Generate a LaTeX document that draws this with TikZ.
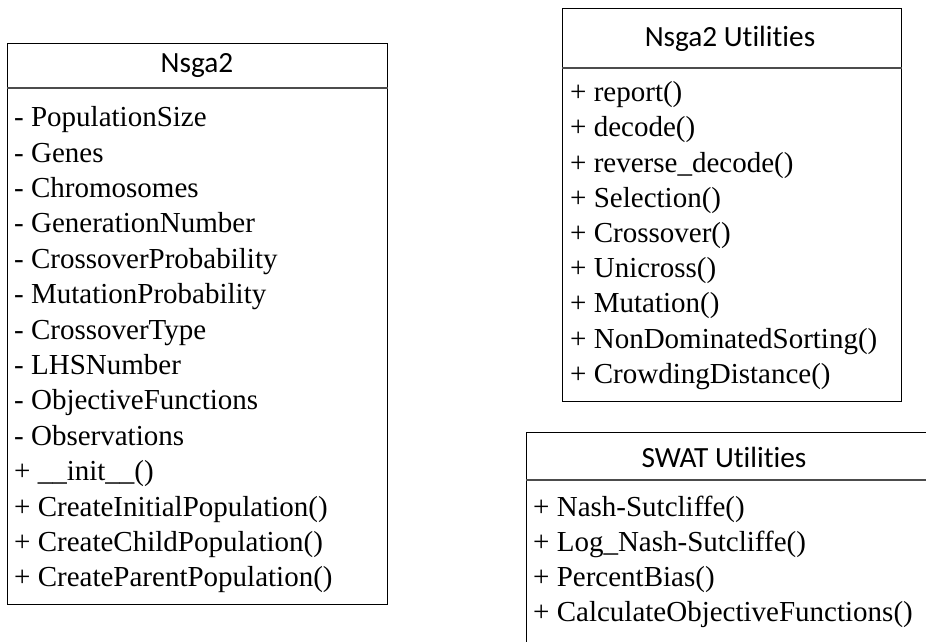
\documentclass[tikz,border=0pt]{standalone}
\usepackage{fontspec}
\setmainfont{Liberation Serif}
\newfontfamily\headfont[Ligatures={NoCommon}]{Carlito}
\begin{document}
\begin{tikzpicture}[x=1pt,y=-1pt,
  classbox/.style={draw=black, line width=0.9pt, fill=white, inner sep=0pt, anchor=north west},
  divider/.style={draw=black!70, line width=1.1pt},
  classtitle/.style={font=\headfont\fontsize{29.3}{35}\selectfont, inner sep=0pt, anchor=base},
  member/.style={font=\fontsize{29}{35}\selectfont, inner sep=0pt, anchor=base west}]
\useasboundingbox (0,0) rectangle (926,642);
\clip (0,0) rectangle (926,642);

% class Nsga2
\node[classbox, minimum width=380pt, minimum height=561pt] (nsga) at (7,43) {};
\draw[divider] ([yshift=-45pt]nsga.north west) -- ([yshift=-45pt]nsga.north east);
\node[classtitle] (nsgaT) at (197,73) {Nsga2};
\foreach \t [count=\i from 0] in {- PopulationSize, - Genes, - Chromosomes,
  - GenerationNumber, - CrossoverProbability, - MutationProbability,
  - CrossoverType, - LHSNumber, - ObjectiveFunctions, - Observations,
  + \_\_init\_\_(), + CreateInitialPopulation(), + CreateChildPopulation(),
  + CreateParentPopulation()}
  \node[member] (nsgaM\i) at (14,126.7+\i*35.4) {\t};

% class Nsga2 Utilities
\node[classbox, minimum width=339pt, minimum height=393pt] (util) at (562,8) {};
\draw[divider] ([yshift=-60pt]util.north west) -- ([yshift=-60pt]util.north east);
\node[classtitle] (utilT) at (730,47) {Nsga2 Utilities};
\foreach \t [count=\i from 0] in {+ report(), + decode(), + reverse\_decode(),
  + Selection(), + Crossover(), + Unicross(), + Mutation(),
  + NonDominatedSorting(), + CrowdingDistance()}
  \node[member] (utilM\i) at (570,101.7+\i*35.2) {\t};

% class SWAT Utilities (runs past the right and bottom edges)
\node[classbox, minimum width=404pt, minimum height=240pt] (swat) at (526,431.5) {};
\draw[divider] ([yshift=-48.5pt]swat.north west) -- ([yshift=-48.5pt]swat.north east);
\node[classtitle] (swatT) at (724,467) {SWAT Utilities};
\foreach \t [count=\i from 0] in {+ Nash-Sutcliffe(), + Log\_Nash-Sutcliffe(),
  + PercentBias(), + CalculateObjectiveFunctions()}
  \node[member] (swatM\i) at (533,516.7+\i*35) {\t};
\end{tikzpicture}
\end{document}
